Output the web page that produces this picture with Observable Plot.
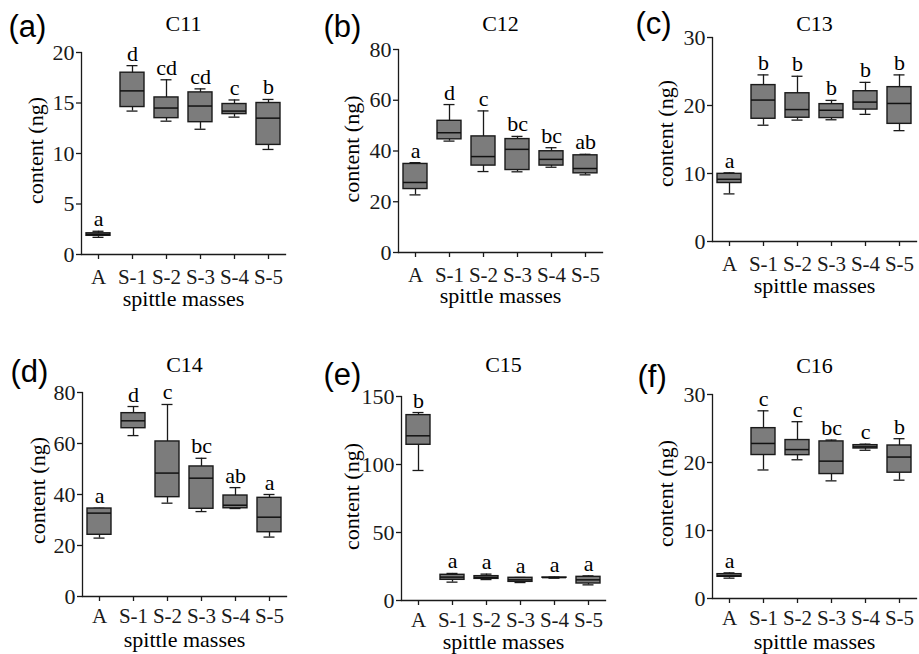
<!DOCTYPE html>
<html><head><meta charset="utf-8">
<script src="https://cdn.jsdelivr.net/npm/d3@7"></script>
<script src="https://cdn.jsdelivr.net/npm/@observablehq/plot@0.6"></script>
<style>
html,body{margin:0;padding:0;background:#fff;}
body{width:919px;height:654px;overflow:hidden;position:relative;}
.panel{position:absolute;}
</style></head><body>
<script>
const groups = ["A", "S-1", "S-2", "S-3", "S-4", "S-5"];
// each row: [whisker low, Q1, median, Q3, whisker high]
const c11Stats = [[1.7,1.85,2.0,2.1,2.3],[14.2,14.6,16.2,18.0,18.7],[13.2,13.5,14.5,15.55,17.3],[12.4,13.1,14.7,16.05,16.4],[13.6,13.9,14.2,14.9,15.3],[10.4,10.85,13.5,15.0,15.35]];
const c11Letters = ["a","d","cd","cd","c","b"];
const c12Stats = [[22.7,25.0,27.6,34.9,35.4],[43.9,44.6,47.2,51.9,58.3],[31.9,34.25,37.8,45.75,55.8],[31.8,32.5,40.65,44.7,45.75],[33.6,34.25,36.7,39.9,41.3],[30.6,31.2,33.1,38.3,38.7]];
const c12Letters = ["a","d","c","bc","bc","ab"];
const c13Stats = [[7.0,8.6,9.15,9.95,10.1],[17.1,18.05,20.8,23.0,24.5],[17.85,18.2,19.4,21.8,24.3],[17.9,18.15,19.3,20.2,20.75],[18.7,19.4,20.5,22.1,23.4],[16.3,17.3,20.3,22.7,24.5]];
const c13Letters = ["a","b","b","b","b","b"];
const c14Stats = [[22.9,24.2,32.7,34.5,34.6],[63.1,66.0,68.9,71.9,74.5],[36.6,38.95,48.4,60.8,75.3],[33.3,34.4,46.4,51.0,54.2],[34.5,34.6,35.8,39.6,42.7],[23.3,25.2,31.1,38.7,40.0]];
const c14Letters = ["a","d","c","bc","ab","a"];
const c15Stats = [[95.6,114.5,121.1,136.3,138.2],[13.5,15.2,17.2,18.9,19.9],[15.4,15.9,16.9,17.9,19.4],[13.2,13.7,15.2,16.7,16.9],[16.4,16.7,16.85,16.9,17.2],[11.5,12.5,15.2,17.4,18.1]];
const c15Letters = ["b","a","a","a","a","a"];
const c16Stats = [[2.99,3.19,3.33,3.58,3.77],[18.9,21.1,22.8,25.05,27.6],[20.4,21.08,21.9,23.3,26.0],[17.3,18.3,20.2,23.1,23.3],[21.8,22.06,22.3,22.55,22.7],[17.4,18.5,20.8,22.5,23.5]];
const c16Letters = ["a","c","c","bc","c","b"];

const titles = ["C11","C12","C13","C14","C15","C16"];
const tags = ["(a)","(b)","(c)","(d)","(e)","(f)"];
const yMax = [20, 80, 30, 80, 150, 30];
const yTicks = [[0,5,10,15,20],[0,20,40,60,80],[0,10,20,30],[0,20,40,60,80],[0,50,100,150],[0,10,20,30]];
const yLabel = "content (ng)";
const xLabel = "spittle masses";

const statsList = [c11Stats, c12Stats, c13Stats, c14Stats, c15Stats, c16Stats];
const lettersList = [c11Letters, c12Letters, c13Letters, c14Letters, c15Letters, c16Letters];

// layout (page pixels)
const layout = [
  {axisX:81,  top:0,   yTop:52,  yZero:254, tagX:8,   tagB:36,  titleB:30,  ylDx:-39, ylDy:-3, xPad:10, xlDy:51},
  {axisX:398, top:0,   yTop:49,  yZero:252, tagX:323, tagB:36,  titleB:30,  ylDx:-40, ylDy:-2, xPad:10, xlDy:50},
  {axisX:712, top:0,   yTop:37,  yZero:241, tagX:635, tagB:33,  titleB:30,  ylDx:-40, ylDy:-6, xPad:9.5, xlDy:51},
  {axisX:82,  top:330, yTop:392, yZero:596, tagX:10,  tagB:381, titleB:371, ylDx:-38, ylDy:-4, xPad:7, xlDy:50},
  {axisX:401, top:330, yTop:396, yZero:600, tagX:323, tagB:384, titleB:371, ylDx:-43, ylDy:-2, xPad:7, xlDy:48},
  {axisX:712, top:330, yTop:394, yZero:598, tagX:637, tagB:386, titleB:372, ylDx:-40, ylDy:-3, xPad:7, xlDy:50}
];

const ML = 82, PW = 204, MR = 3, MB = 56;
const ink = "#1a1a1a";

layout.forEach((L, k) => {
  const rows = groups.map((g, i) => ({
    group: g,
    lo: statsList[k][i][0], q1: statsList[k][i][1], med: statsList[k][i][2],
    q3: statsList[k][i][3], hi: statsList[k][i][4], letter: lettersList[k][i]
  }));
  const mt = L.yTop - L.top;
  const height = L.yZero - L.top + MB;
  const svg = Plot.plot({
    width: ML + PW + MR,
    height,
    marginLeft: ML, marginRight: MR, marginTop: mt, marginBottom: MB,
    style: {fontFamily: "'Liberation Serif', 'Times New Roman', serif", fontSize: "22px", background: "transparent", overflow: "visible", color: ink},
    x: {domain: groups, paddingInner: 0.3, paddingOuter: 0.15, label: null, axis: null},
    y: {domain: [0, yMax[k]], label: null, axis: null},
    marks: [
      Plot.frame({anchor: "left", stroke: ink, strokeWidth: 1.3}),
      Plot.frame({anchor: "bottom", stroke: ink, strokeWidth: 1.3}),
      Plot.axisY({ticks: yTicks[k], tickSize: 5, tickPadding: 2, fontSize: 22, label: null, stroke: ink, strokeWidth: 1.3}),
      Plot.axisX({tickSize: 5, tickPadding: L.xPad, fontSize: 21, label: null, stroke: ink, strokeWidth: 1.3}),
      Plot.ruleX(rows, {x: "group", y1: "lo", y2: "hi", stroke: ink, strokeWidth: 1.3}),
      Plot.tickY(rows, {x: "group", y: "lo", stroke: ink, strokeWidth: 1.3, insetLeft: 6.5, insetRight: 6.5}),
      Plot.tickY(rows, {x: "group", y: "hi", stroke: ink, strokeWidth: 1.3, insetLeft: 6.5, insetRight: 6.5}),
      Plot.barY(rows, {x: "group", y1: "q1", y2: "q3", fill: "#7c7c7c", stroke: ink, strokeWidth: 1.4}),
      Plot.tickY(rows, {x: "group", y: "med", stroke: "#111", strokeWidth: 1.5}),
      Plot.text(rows, {x: "group", y: "hi", text: "letter", lineAnchor: "bottom", dy: -5, fontSize: 22, fill: "#000"}),
      Plot.text([titles[k]], {frameAnchor: "top", lineAnchor: "bottom", dy: L.titleB - L.yTop, fontSize: 22, fill: "#000"}),
      Plot.text([tags[k]], {frameAnchor: "top-left", textAnchor: "start", lineAnchor: "bottom", dx: L.tagX - L.axisX, dy: L.tagB - L.yTop, fontFamily: "'Liberation Sans', Arial, sans-serif", fontSize: 31, fill: "#000"}),
      Plot.text([yLabel], {frameAnchor: "left", rotate: -90, textAnchor: "middle", lineAnchor: "bottom", dx: L.ylDx, dy: L.ylDy, fontSize: 22, fill: "#000"}),
      Plot.text([xLabel], {frameAnchor: "bottom", lineAnchor: "bottom", dy: L.xlDy, fontSize: 22, fill: "#000"})
    ]
  });
  const div = document.createElement("div");
  div.className = "panel";
  div.style.left = (L.axisX - ML) + "px";
  div.style.top = L.top + "px";
  div.appendChild(svg);
  document.body.appendChild(div);
});
</script>
</body></html>
